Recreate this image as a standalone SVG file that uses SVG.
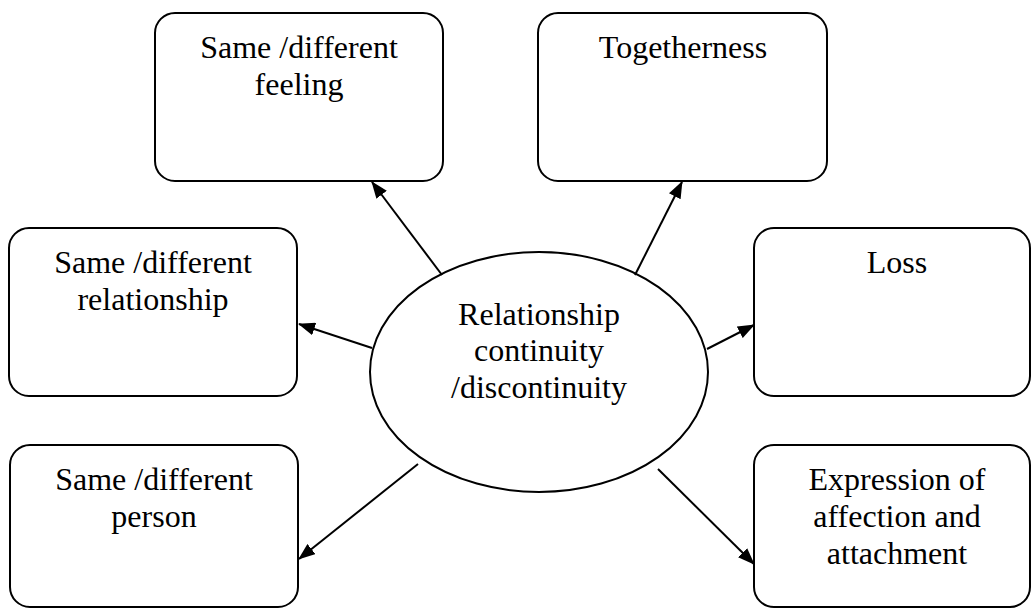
<svg xmlns="http://www.w3.org/2000/svg" width="1032" height="609" viewBox="0 0 1032 609">
<style>
.box{fill:#fff;stroke:#000;stroke-width:2}
.t{font-family:"Liberation Serif","Times New Roman",serif;font-size:32px;fill:#000;text-anchor:middle}
.c{stroke:#000;stroke-width:2;fill:none;marker-end:url(#ah)}
</style>
<defs>
<marker id="ah" markerUnits="userSpaceOnUse" markerWidth="17" markerHeight="13" refX="16" refY="6.5" orient="auto">
<path d="M0,0 L17,6.5 L0,13 z" fill="#000"/>
</marker>
</defs>
<rect width="1032" height="609" fill="#fff"/>
<g id="node-feeling">
<rect class="box" x="155" y="13" width="288" height="168" rx="20"/>
<text class="t" x="299" y="58">Same /different</text>
<text class="t" x="299" y="95">feeling</text>
</g>
<g id="node-togetherness">
<rect class="box" x="538" y="13" width="289" height="168" rx="20"/>
<text class="t" x="683" y="58">Togetherness</text>
</g>
<g id="node-relationship">
<rect class="box" x="9" y="228" width="288" height="168" rx="20"/>
<text class="t" x="153" y="273">Same /different</text>
<text class="t" x="153" y="310">relationship</text>
</g>
<g id="node-loss">
<rect class="box" x="754" y="228" width="276" height="168" rx="20"/>
<text class="t" x="897" y="273">Loss</text>
</g>
<g id="node-person">
<rect class="box" x="10" y="445" width="288" height="162" rx="20"/>
<text class="t" x="154" y="490">Same /different</text>
<text class="t" x="154" y="527">person</text>
</g>
<g id="node-expression">
<rect class="box" x="754" y="445" width="276" height="162" rx="20"/>
<text class="t" x="897" y="490">Expression of</text>
<text class="t" x="897" y="527">affection and</text>
<text class="t" x="897" y="564">attachment</text>
</g>
<g id="node-center">
<ellipse class="box" cx="539" cy="372" rx="169" ry="120"/>
<text class="t" x="539" y="325">Relationship</text>
<text class="t" x="539" y="361">continuity</text>
<text class="t" x="539" y="398">/discontinuity</text>
</g>
<g id="connectors">
<line class="c" x1="442" y1="275" x2="372" y2="182"/>
<line class="c" x1="635" y1="275" x2="682" y2="182"/>
<line class="c" x1="372" y1="348" x2="299" y2="324"/>
<line class="c" x1="707" y1="349" x2="754" y2="325"/>
<line class="c" x1="418" y1="464" x2="299" y2="559"/>
<line class="c" x1="658" y1="469" x2="754" y2="564"/>
</g>
</svg>
